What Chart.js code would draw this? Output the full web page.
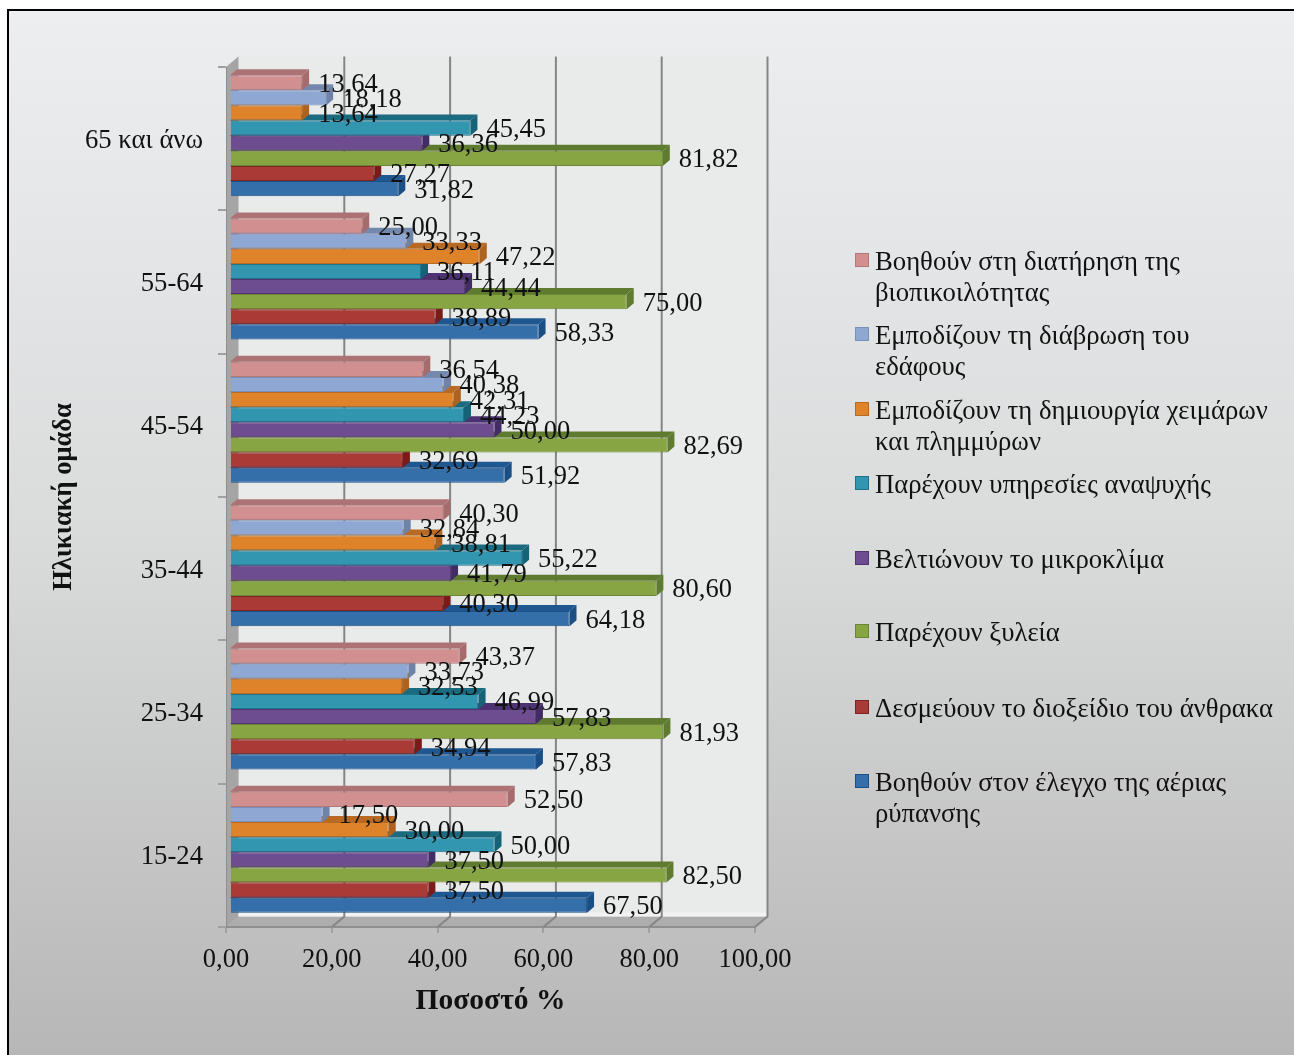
<!DOCTYPE html>
<html lang="el">
<head>
<meta charset="utf-8">
<title>Ηλικιακή ομάδα</title>
<script src="https://cdn.jsdelivr.net/npm/chart.js@4"></script>
<style>
  html, body { margin: 0; padding: 0; background: #fff; overflow: hidden; }
  #wrap { position: relative; width: 1294px; height: 1055px; }
  canvas { display: block; position: absolute; left: 0; top: 0; }
  #legend { position: absolute; left: 856px; top: 0; width: 425px; font: 26.7px/31px "Liberation Serif", serif; color: #111; }
  #legend .item { position: absolute; left: 0; padding-left: 19px; width: 400px; }
  #legend .box { position: absolute; left: -1px; top: 7px; width: 14px; height: 14px; box-sizing: border-box; }
</style>
</head>
<body>
<div id="wrap">
  <canvas id="canvas" width="1294" height="1055"></canvas>
  <div id="legend"></div>
</div>
<script>
var categories = ['15-24', '25-34', '35-44', '45-54', '55-64', '65 και άνω'];

var airPollution = [67.50, 57.83, 64.18, 51.92, 58.33, 31.82];
var carbon       = [37.50, 34.94, 40.30, 32.69, 38.89, 27.27];
var timber       = [82.50, 81.93, 80.60, 82.69, 75.00, 81.82];
var microclimate = [37.50, 57.83, 41.79, 50.00, 44.44, 36.36];
var recreation   = [50.00, 46.99, 55.22, 44.23, 36.11, 45.45];
var floods       = [30.00, 32.53, 38.81, 42.31, 47.22, 13.64];
var erosion      = [17.50, 33.73, 32.84, 40.38, 33.33, 18.18];
var biodiversity = [52.50, 43.37, 40.30, 36.54, 25.00, 13.64];

var xTicks = [0, 20, 40, 60, 80, 100];

// chart.js paints the last dataset first, so the top bar of a group comes first here
var series = [
  { label: 'Βοηθούν στη διατήρηση της βιοπικοιλότητας', data: biodiversity, face: '#d18f90', edge: '#b07a7a', top: '#ad7374', side: '#a66c6d', legendY: 246 },
  { label: 'Εμποδίζουν τη διάβρωση του εδάφους', data: erosion, face: '#8fa8d3', edge: '#7a90b8', top: '#7488ad', side: '#6f83a8', legendY: 320 },
  { label: 'Εμποδίζουν τη δημιουργία χειμάρων και πλημμύρων', data: floods, face: '#df832b', edge: '#b86a20', top: '#b96a22', side: '#ae6220', legendY: 395 },
  { label: 'Παρέχουν υπηρεσίες αναψυχής', data: recreation, face: '#3296b0', edge: '#1f7288', top: '#1a6b80', side: '#166276', legendY: 469 },
  { label: 'Βελτιώνουν το μικροκλίμα', data: microclimate, face: '#6d4d8f', edge: '#503570', top: '#4c3272', side: '#432b66', legendY: 544 },
  { label: 'Παρέχουν ξυλεία', data: timber, face: '#88a544', edge: '#6c8536', top: '#5f7b30', side: '#5f7b30', legendY: 617 },
  { label: 'Δεσμεύουν το διοξείδιο του άνθρακα', data: carbon, face: '#a93a36', edge: '#7d2522', top: '#8a2623', side: '#7a1b1a', legendY: 693 },
  { label: 'Βοηθούν στον έλεγχο της αέριας ρύπανσης', data: airPollution, face: '#346fa9', edge: '#1c4f86', top: '#1f5790', side: '#1a4f85', legendY: 767 }
];

var fmt = function(v) { return Number(v).toFixed(2).replace('.', ','); };

var WALL_DX = 12.5, WALL_DY = 10.5;   // depth of the back wall
var BAR_X = 4, BAR_Y = -3;            // bars sit a little behind the front axis
var BAR_DX = 7, BAR_DY = 6;           // depth of one bar
var serif = '"Liberation Serif", serif';

var scenery = {
  id: 'scenery',
  beforeDraw: function(chart) {
    var c = chart.ctx, a = chart.chartArea, W = chart.width, H = chart.height;
    var g = c.createLinearGradient(0, 10, 0, H);
    g.addColorStop(0, '#eceef0');
    g.addColorStop(0.5, '#dadbdb');
    g.addColorStop(1, '#b7b7b7');
    c.save();
    c.fillStyle = g;
    c.fillRect(8, 10, W - 8, H - 10);
    c.fillStyle = '#000';
    c.fillRect(7, 9, W - 7, 2);
    c.fillRect(7, 9, 2, H - 9);

    var x0 = a.left, x1 = a.right, y0 = a.top, y1 = a.bottom;
    // back wall
    c.fillStyle = '#e9ebeb';
    c.fillRect(x0 + WALL_DX, y0 - WALL_DY, x1 - x0, y1 - y0);
    // left wall
    c.fillStyle = '#a5a5a5';
    c.beginPath();
    c.moveTo(x0, y0); c.lineTo(x0 + WALL_DX, y0 - WALL_DY);
    c.lineTo(x0 + WALL_DX, y1 - WALL_DY); c.lineTo(x0, y1);
    c.closePath(); c.fill();
    // floor
    c.fillStyle = '#adadad';
    c.beginPath();
    c.moveTo(x0, y1); c.lineTo(x0 + WALL_DX, y1 - WALL_DY);
    c.lineTo(x1 + WALL_DX, y1 - WALL_DY); c.lineTo(x1, y1);
    c.closePath(); c.fill();
    c.fillStyle = '#8f8f8f';
    c.fillRect(x0, y1 - 1, x1 - x0, 2);
    c.fillStyle = '#f2f2f2';
    c.fillRect(x0 + WALL_DX, y1 - WALL_DY - 4, x1 - x0, 4);

    // gridlines: along the floor, then up the back wall
    c.strokeStyle = '#858585';
    c.lineWidth = 2;
    xTicks.forEach(function(v) {
      if (v === 0) return;
      var px = chart.scales.x.getPixelForValue(v);
      c.beginPath();
      c.moveTo(px, y1);
      c.lineTo(px + WALL_DX, y1 - WALL_DY);
      c.lineTo(px + WALL_DX, y0 - WALL_DY);
      c.stroke();
    });
    c.restore();
  },
  beforeDatasetsDraw: function(chart) {
    chart.ctx.save();
    chart.ctx.translate(BAR_X, BAR_Y);
  },
  // top and side of a bar go down before its front face
  beforeDatasetDraw: function(chart, args) {
    var c = chart.ctx, s = series[args.index];
    c.save();
    args.meta.data.forEach(function(bar) {
      var h = bar.height, t = bar.y - h / 2, b = bar.y + h / 2, l = chart.scales.x.left, r = bar.x;
      c.fillStyle = s.top;
      c.beginPath();
      c.moveTo(l, t); c.lineTo(l + BAR_DX, t - BAR_DY);
      c.lineTo(r + BAR_DX, t - BAR_DY); c.lineTo(r, t);
      c.closePath(); c.fill();
      c.fillStyle = s.side;
      c.beginPath();
      c.moveTo(r, t); c.lineTo(r + BAR_DX, t - BAR_DY);
      c.lineTo(r + BAR_DX, b - BAR_DY); c.lineTo(r, b);
      c.closePath(); c.fill();
    });
    c.restore();
  },
  afterDatasetsDraw: function(chart) {
    var c = chart.ctx;
    c.restore();
    // value labels on top of everything
    c.save();
    c.font = '26.5px ' + serif;
    c.fillStyle = '#111';
    c.textAlign = 'left';
    c.textBaseline = 'middle';
    chart.data.datasets.forEach(function(ds, i) {
      chart.getDatasetMeta(i).data.forEach(function(bar, j) {
        c.fillText(fmt(ds.data[j]), bar.x + BAR_X + 16, bar.y + BAR_Y + 2);
      });
    });
    c.restore();
  }
};

var config = {
  type: 'bar',
  data: {
    labels: categories,
    datasets: series.map(function(s) {
      return {
        label: s.label,
        data: s.data,
        backgroundColor: s.face,
        borderColor: s.edge,
        borderWidth: 1,
        categoryPercentage: 0.844,
        barPercentage: 1,
        clip: false
      };
    })
  },
  options: {
    indexAxis: 'y',
    responsive: false,
    animation: false,
    layout: { padding: { left: 0, right: 539, top: 67, bottom: 0 } },
    plugins: {
      legend: { display: false },
      tooltip: { enabled: false },
      title: { display: false }
    },
    scales: {
      x: {
        min: 0,
        max: 100,
        afterBuildTicks: function(axis) {
          axis.ticks = xTicks.map(function(v) { return { value: v }; });
        },
        afterFit: function(axis) { axis.height = 128; },
        border: { color: '#8f8f8f' },
        grid: { drawOnChartArea: false, tickLength: 6, color: '#a0a0a0', lineWidth: 2 },
        ticks: {
          color: '#111',
          padding: 11,
          maxRotation: 0,
          font: { family: serif, size: 26.5 },
          callback: function(v) { return fmt(v); }
        },
        title: {
          display: true,
          text: 'Ποσοστό %',
          color: '#111',
          font: { family: serif, size: 29.5, weight: 'bold' },
          padding: { top: 0, bottom: 36 }
        }
      },
      y: {
        reverse: true,
        afterFit: function(axis) { axis.width = 226; },
        border: { color: '#8f8f8f' },
        grid: { drawOnChartArea: false, tickLength: 8, color: '#a0a0a0', lineWidth: 2 },
        ticks: {
          color: '#111',
          padding: 15,
          labelOffset: 2,
          font: { family: serif, size: 26.7 }
        },
        title: {
          display: true,
          text: 'Ηλικιακή ομάδα',
          color: '#111',
          font: { family: serif, size: 26.5, weight: 'bold' },
          padding: { top: 48, bottom: 0 }
        }
      }
    }
  },
  plugins: [scenery]
};

var myChart = new Chart(document.getElementById('canvas'), config);

// legend text wraps to two lines, so it is built as html from the series
var legend = document.getElementById('legend');
series.forEach(function(s) {
  var item = document.createElement('div');
  item.className = 'item';
  item.style.top = s.legendY + 'px';
  var box = document.createElement('span');
  box.className = 'box';
  box.style.background = s.face;
  box.style.border = '1px solid ' + s.edge;
  item.appendChild(box);
  item.appendChild(document.createTextNode(s.label));
  legend.appendChild(item);
});
</script>
</body>
</html>
